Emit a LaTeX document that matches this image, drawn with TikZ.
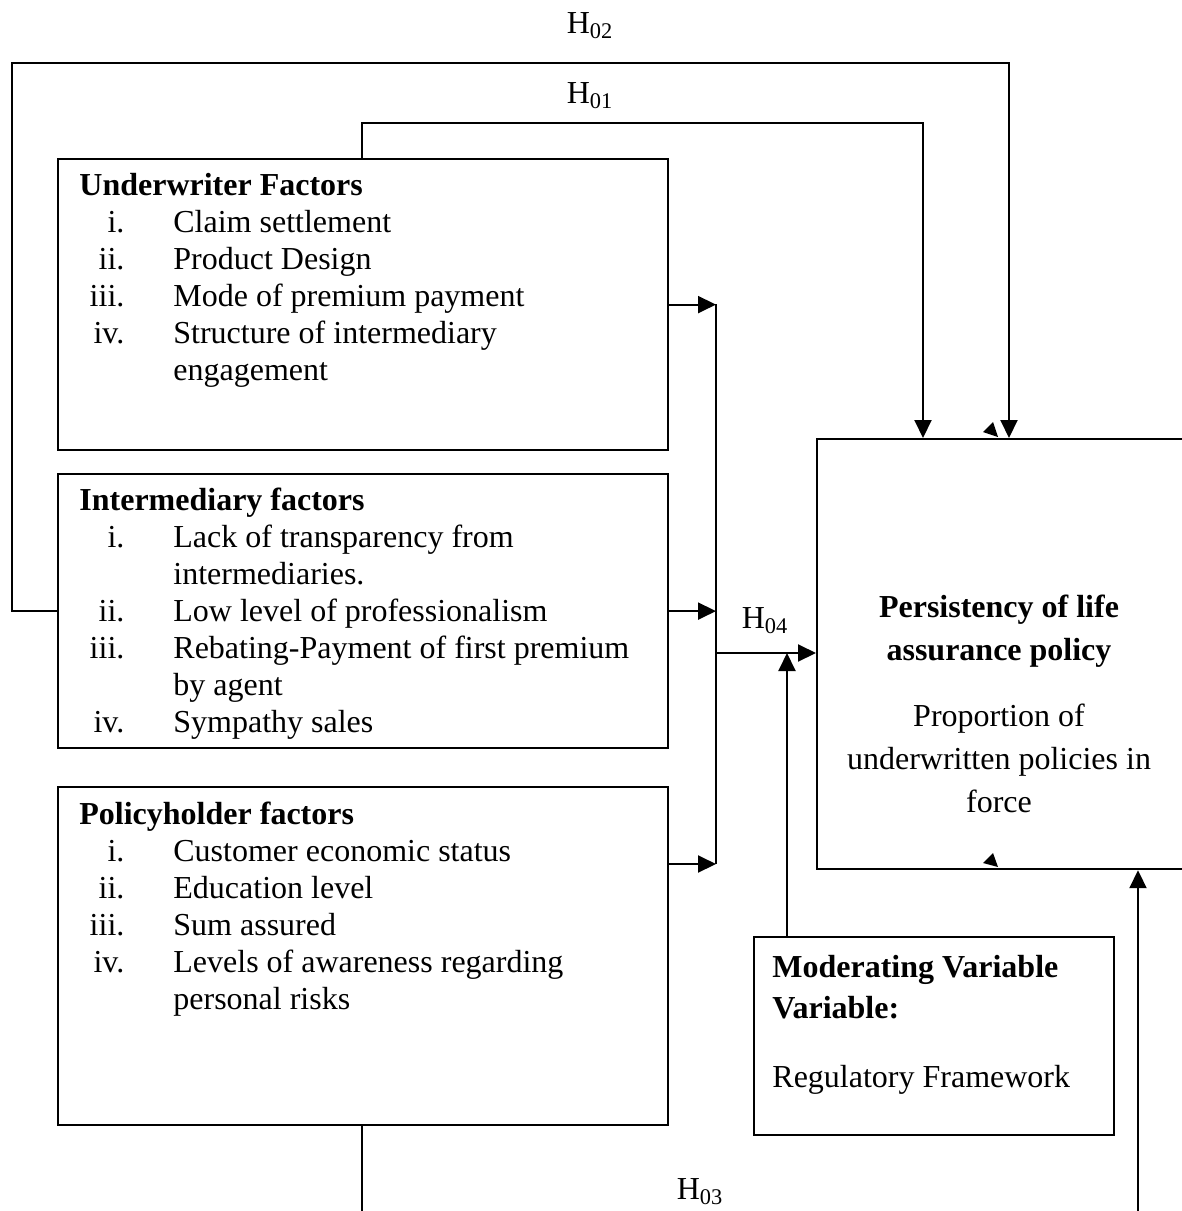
\documentclass[tikz,border=0pt]{standalone}
\usepackage{fontspec}
\setmainfont{Liberation Serif}
\usetikzlibrary{arrows.meta,calc}
\newcommand{\itm}[2]{\makebox[22.5pt][r]{#1}\hspace{24.5pt}#2}
\newcommand{\cnt}[1]{\hspace{47pt}#1}
\tikzset{
  box/.style={draw, line width=1.1pt, anchor=north west, inner sep=0pt},
  list/.style={anchor=base west, align=left, inner sep=0pt, font=\fontsize{16}{18.5}\selectfont},
  mid/.style={anchor=base, align=center, inner sep=0pt, font=\fontsize{16}{21.5}\selectfont},
  hyp/.style={anchor=base, inner sep=0pt, font=\fontsize{16}{19}\selectfont},
  arr/.style={line width=1pt, -{Triangle[length=9pt,width=8.5pt]}},
  ln/.style={line width=1pt}
}
\begin{document}
\begin{tikzpicture}[x=0.5pt,y=-0.5pt]
\useasboundingbox (0,0) rectangle (1182,1211);
\node[box, minimum width=305pt, minimum height=145.5pt] (uw) at (57,158) {};
\node[box, minimum width=305pt, minimum height=137pt] (im) at (57,473) {};
\node[box, minimum width=305pt, minimum height=169pt] (ph) at (57,786) {};
\node[box, minimum width=187pt, minimum height=215pt] (pa) at (816,438) {};
\node[box, minimum width=180pt, minimum height=99pt] (mv) at (753,936) {};

% multi-line nodes sit on the baseline of their last line
\node[list] (uwt) at (79,380) {\textbf{Underwriter Factors}\\
  \itm{i.}{Claim settlement}\\
  \itm{ii.}{Product Design}\\
  \itm{iii.}{Mode of premium payment}\\
  \itm{iv.}{Structure of intermediary}\\
  \cnt{engagement}};
\node[list] (imt) at (79,732) {\textbf{Intermediary factors}\\
  \itm{i.}{Lack of transparency from}\\
  \cnt{intermediaries.}\\
  \itm{ii.}{Low level of professionalism}\\
  \itm{iii.}{Rebating-Payment of first premium}\\
  \cnt{by agent}\\
  \itm{iv.}{Sympathy sales}};
\node[list] (pht) at (79,1009) {\textbf{Policyholder factors}\\
  \itm{i.}{Customer economic status}\\
  \itm{ii.}{Education level}\\
  \itm{iii.}{Sum assured}\\
  \itm{iv.}{Levels of awareness regarding}\\
  \cnt{personal risks}};
\node[mid] (pat) at (999,660) {\textbf{Persistency of life}\\\textbf{assurance policy}};
\node[mid] (pas) at (999,812) {Proportion of\\underwritten policies in\\force};
\node[list, font=\fontsize{16}{20.5}\selectfont] (mvt) at (772,1018) {\textbf{Moderating Variable}\\\textbf{Variable:}};
\node[list] (mvs) at (772,1087) {Regulatory Framework};

\node[hyp] (h2) at (590,33) {H\textsubscript{02}};
\node[hyp] (h1) at (590,103) {H\textsubscript{01}};
\node[hyp] (h4) at (765,628) {H\textsubscript{04}};
\node[hyp] (h3) at (700,1199) {H\textsubscript{03}};

\coordinate (jt) at (716,304);
\coordinate (jb) at (716,864);
\coordinate (jm) at (716,653);
\draw[arr] (uw.east) -- (uw.east -| jt);
\draw[arr] (im.east) -- (im.east -| jt);
\draw[arr] (ph.east |- jb) -- (jb);
\draw[ln] (jt) -- (jb);
\draw[arr] (jm) -- (jm -| pa.west);
\coordinate (mo) at ($(mv.north west)+(34,0)$);
\draw[arr] (mo) -- (mo |- jm);

\coordinate (a1) at ($(uw.north west)+(305,0)$);
\coordinate (p1) at ($(pa.north west)+(107,0)$);
\draw[arr] (a1) -- ++(0,-35) -| (p1);
\coordinate (p2) at ($(pa.north west)+(193,0)$);
\draw[arr] (im.west) -- ++(-45,0) -- ++(0,-548) -| (p2);

\coordinate (b1) at ($(ph.south west)+(305,0)$);
\coordinate (e1) at (362,1215);
\draw[ln] (b1) -- (b1 |- e1);
\coordinate (e2) at (1138,1215);
\draw[arr] (e2) -- (e2 |- pa.south);

\fill (983,432) -- (993,422) -- (998,437) -- cycle;
\fill (983,863) -- (993,853) -- (998,867) -- cycle;
\end{tikzpicture}
\end{document}
